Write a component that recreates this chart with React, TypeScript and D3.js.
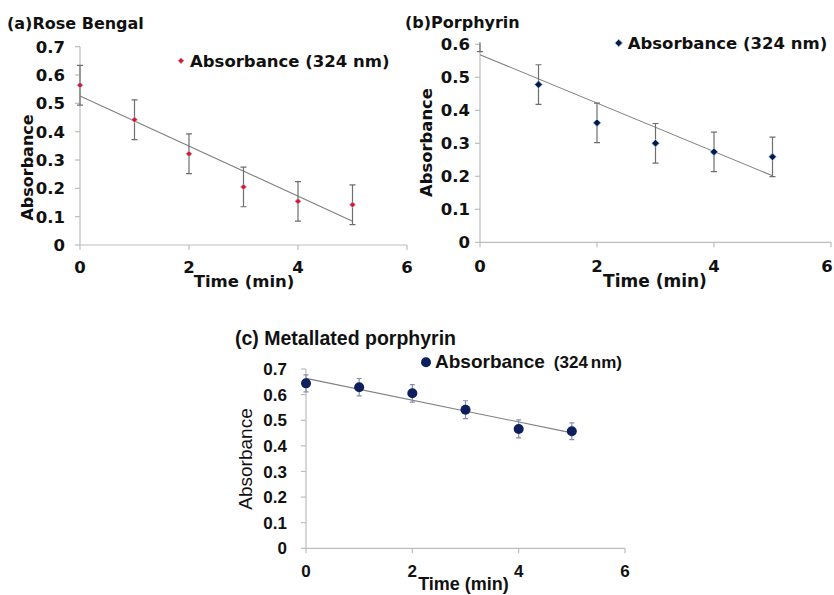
import React from "react";
import * as d3 from "d3";

// ---- data ----
const timeMin = [0, 1, 2, 3, 4, 5];
const xTicks = [0, 2, 4, 6];

const absRoseBengal = [0.564, 0.442, 0.322, 0.205, 0.154, 0.142];
const errRoseBengal = [0.07, 0.07, 0.07, 0.07, 0.07, 0.07];
const yTicksA = [0, 0.1, 0.2, 0.3, 0.4, 0.5, 0.6, 0.7];

const absPorphyrin = [0.638, 0.478, 0.362, 0.3, 0.274, 0.259];
const errPorphyrin = [0.06, 0.06, 0.06, 0.06, 0.06, 0.06];
const yTicksB = [0, 0.1, 0.2, 0.3, 0.4, 0.5, 0.6];

const absMetallated = [0.644, 0.629, 0.605, 0.541, 0.466, 0.457];
const errMetallated = [0.033, 0.034, 0.034, 0.035, 0.035, 0.033];
const yTicksC = [0, 0.1, 0.2, 0.3, 0.4, 0.5, 0.6, 0.7];

const titles = ["(a)Rose Bengal", "(b)Porphyrin", "(c) Metallated porphyrin"];
const legendMain = "Absorbance (324 nm)";

function fit(xs: number[], ys: number[]) {
  const mx = d3.mean(xs)!;
  const my = d3.mean(ys)!;
  let sxy = 0, sxx = 0;
  xs.forEach((x, i) => {
    sxy += (x - mx) * (ys[i] - my);
    sxx += (x - mx) * (x - mx);
  });
  const m = sxy / sxx;
  return { m, b: my - m * mx };
}

const fmt = (v: number) => (v === 0 ? "0" : v.toFixed(1));

type PanelProps = {
  id: string;
  values: number[];
  errors: number[];
  yTicks: number[];
  x0: number; x1: number; yb: number; yt: number;
  font: string;
  tickSize: number;
  tickRight: number;
  xTickBase: number;
  title: string; titleX: number; titleY: number; titleSize: number;
  ylabX: number; ylabY: number; ylabSize: number; ylabWeight: string;
  xlabX: number; xlabY: number; xlabSize: number;
  marker: "dot" | "diamond" | "circle";
  markerFill: string;
  errColor: string;
  capW: number;
  legendX: number; legendY: number; legendSize: number;
  legendSplit?: boolean;
  maxX?: number;
};

function markerPath(kind: string) {
  if (kind === "diamond") return "M0,-3.8L3.8,0L0,3.8L-3.8,0Z";
  if (kind === "dot") return "M0,-3L3,0L0,3L-3,0Z";
  return d3.symbol().type(d3.symbolCircle).size(Math.PI * 25)()!;
}

function Panel(p: PanelProps) {
  const x = d3.scaleLinear().domain([0, 6]).range([p.x0, p.x1]);
  const yMax = p.yTicks[p.yTicks.length - 1];
  const y = d3.scaleLinear().domain([0, yMax]).range([p.yb, p.yt]);
  const { m, b } = fit(timeMin, p.values);
  const line = d3.line<number>().x((t) => x(t)).y((t) => y(m * t + b));
  const axisColor = "#bdbdbd";
  const mp = markerPath(p.marker);
  const stroke = p.marker === "circle" ? "none" : "#9cc6ee";
  return (
    <g fontFamily={p.font}>
      <defs>
        <clipPath id={p.id}>
          <rect x={p.x0 - 20} y={p.yt - 2} width={p.x1 - p.x0 + 40} height={p.yb - p.yt + 20} />
        </clipPath>
      </defs>
      <line x1={p.x0} x2={p.x0} y1={p.yt} y2={p.yb} stroke={axisColor} strokeWidth={1.2} />
      <line x1={p.x0} x2={p.x1} y1={p.yb} y2={p.yb} stroke={axisColor} strokeWidth={1.2} />
      {p.yTicks.map((t) => (
        <g key={"y" + t}>
          <line x1={p.x0 - 5} x2={p.x0} y1={y(t)} y2={y(t)} stroke={axisColor} strokeWidth={1.2} />
          <text x={p.tickRight} y={y(t)} dy="0.36em" textAnchor="end" fontSize={p.tickSize} fontWeight="bold" fill="#111">
            {fmt(t)}
          </text>
        </g>
      ))}
      {xTicks.map((t) => {
        const cx = p.maxX !== undefined ? Math.min(x(t), p.maxX) : x(t);
        return (
          <g key={"x" + t}>
            <line x1={x(t)} x2={x(t)} y1={p.yb} y2={p.yb + 5} stroke={axisColor} strokeWidth={1.2} />
            <text x={cx} y={p.xTickBase} textAnchor="middle" fontSize={p.tickSize} fontWeight="bold" fill="#111">
              {t}
            </text>
          </g>
        );
      })}
      <g clipPath={`url(#${p.id})`}>
        <path d={line([0, 5])!} stroke="#808080" strokeWidth={1.1} fill="none" />
        {timeMin.map((t, i) => {
          const lo = y(p.values[i] - p.errors[i]);
          const hi = y(p.values[i] + p.errors[i]);
          return (
            <g key={"e" + i} stroke={p.errColor} strokeWidth={1.2}>
              <line x1={x(t)} x2={x(t)} y1={lo} y2={hi} />
              <line x1={x(t) - p.capW} x2={x(t) + p.capW} y1={lo} y2={lo} />
              <line x1={x(t) - p.capW} x2={x(t) + p.capW} y1={hi} y2={hi} />
            </g>
          );
        })}
        {timeMin.map((t, i) => (
          <path key={"m" + i} d={mp} transform={`translate(${x(t)},${y(p.values[i])})`} fill={p.markerFill} stroke={stroke} strokeWidth={0.8} />
        ))}
      </g>
      <text x={p.titleX} y={p.titleY} fontSize={p.titleSize} fontWeight="bold" fill="#111">
        {p.title}
      </text>
      <text transform={`translate(${p.ylabX},${p.ylabY}) rotate(-90)`} textAnchor="middle" dy="0.36em" fontSize={p.ylabSize} fontWeight={p.ylabWeight} fill="#111">
        Absorbance
      </text>
      <text x={p.xlabX} y={p.xlabY} textAnchor="middle" fontSize={p.xlabSize} fontWeight="bold" fill="#111">
        Time (min)
      </text>
      <path d={mp} transform={`translate(${p.legendX - 9},${p.legendY - 6})`} fill={p.markerFill} stroke={stroke} strokeWidth={0.8} />
      {p.legendSplit ? (
        <text x={p.legendX} y={p.legendY} fontSize={p.legendSize} fontWeight="bold" fill="#111">
          Absorbance
          <tspan dx={9} fontSize={17}>(324</tspan>
          <tspan dx={3} fontSize={17}>nm)</tspan>
        </text>
      ) : (
        <text x={p.legendX} y={p.legendY} fontSize={p.legendSize} fontWeight="bold" fill="#111">
          {legendMain}
        </text>
      )}
    </g>
  );
}

export default function App() {
  const verdana = "'DejaVu Sans', Verdana, sans-serif";
  const arial = "'Liberation Sans', Arial, sans-serif";
  return (
    <svg width={834} height={595} style={{ position: "absolute", left: 0, top: 0, background: "#fff" }}>
      <Panel
        id="clipA" values={absRoseBengal} errors={errRoseBengal} yTicks={yTicksA}
        x0={80} x1={407} yb={245} yt={46.7}
        font={verdana} tickSize={16.5} tickRight={65} xTickBase={272.5}
        title={titles[0]} titleX={7} titleY={29} titleSize={16}
        ylabX={27} ylabY={167.5} ylabSize={16} ylabWeight="bold"
        xlabX={244} xlabY={287} xlabSize={16.5}
        marker="dot" markerFill="#e8121c" errColor="#6e6e6e" capW={3}
        legendX={190} legendY={66.7} legendSize={16.5}
      />
      <Panel
        id="clipB" values={absPorphyrin} errors={errPorphyrin} yTicks={yTicksB}
        x0={480} x1={831} yb={242.3} yt={44.3}
        font={verdana} tickSize={16.5} tickRight={470} xTickBase={271.7}
        title={titles[1]} titleX={405} titleY={28.3} titleSize={16}
        ylabX={425.7} ylabY={142.5} ylabSize={16.4} ylabWeight="bold"
        xlabX={655} xlabY={286.7} xlabSize={17}
        marker="diamond" markerFill="#0b1746" errColor="#6e6e6e" capW={3}
        legendX={627.7} legendY={49} legendSize={16.5} maxX={827}
      />
      <Panel
        id="clipC" values={absMetallated} errors={errMetallated} yTicks={yTicksC}
        x0={306} x1={625} yb={548.3} yt={369}
        font={arial} tickSize={17} tickRight={287} xTickBase={577}
        title={titles[2]} titleX={235} titleY={345} titleSize={19.5}
        ylabX={245} ylabY={459} ylabSize={19} ylabWeight="normal"
        xlabX={463.5} xlabY={590} xlabSize={18}
        marker="circle" markerFill="#0e1f5e" errColor="#8590ad" capW={2.5}
        legendX={435} legendY={368.3} legendSize={19} legendSplit
      />
    </svg>
  );
}
